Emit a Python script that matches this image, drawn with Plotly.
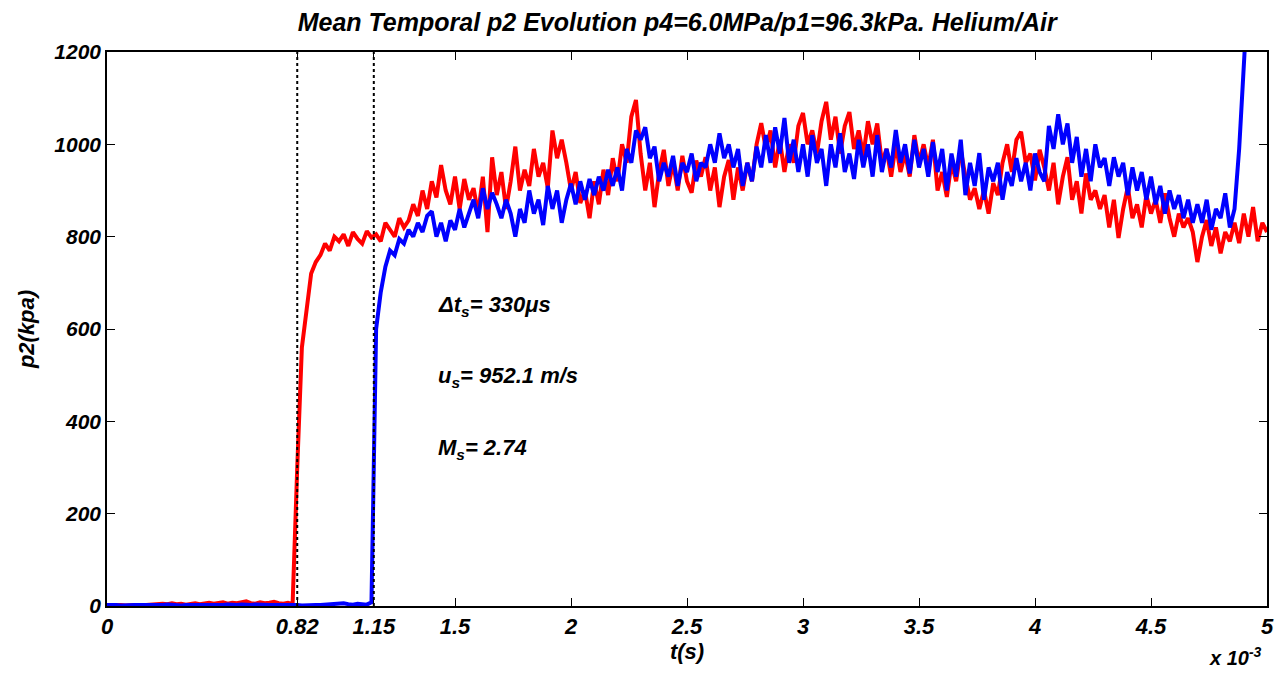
import plotly.graph_objects as go

# ---- data (time in ms, pressure in kPa) ----
DT_MS = 0.02

p2_red = [
    1, 2, 1, 2, 1, 2, 2, 1, 2, 3,
    4, 3, 5, 4, 6, 4, 5, 3, 5, 6,
    4, 5, 7, 5, 6, 8, 5, 7, 6, 9,
    10, 6, 5, 8, 6, 7, 9, 6, 5, 7,
    4, 300, 560, 640, 720, 745, 760, 785, 770, 800,
    790, 805, 780, 810, 795, 785, 812, 798, 805, 790,
    830, 815, 800, 840, 820, 835, 870, 845, 900, 860,
    920, 885, 955, 900, 870, 930, 860, 925, 880, 905,
    850, 930, 810, 972, 890, 940, 860, 920, 995, 900,
    945, 910, 990, 930, 960, 905, 1030, 970, 1010, 960,
    900, 940, 873, 900, 840, 920, 870, 945, 890, 970,
    920, 1000, 960, 1060, 1096, 980, 900, 960, 864, 940,
    988, 910, 960, 900, 975, 920, 895, 965, 930, 972,
    900, 950, 864, 930, 966, 880, 950, 900, 960, 920,
    1000, 1046, 990, 1030, 950, 1010, 940, 1000, 960, 1040,
    1068, 1000, 1030, 980, 1050, 1092, 1010, 1060, 980, 1040,
    1070, 990, 1030, 975, 1050, 1000, 1045, 960, 990, 930,
    1000, 940, 980, 930, 1020, 960, 1000, 950, 1010, 900,
    940, 886, 960, 920, 988, 930, 880, 905, 860, 900,
    850, 916, 890, 960, 1000, 940, 1010, 1027, 960, 980,
    922, 988, 950, 900, 960, 870, 930, 972, 880, 920,
    850, 937, 880, 900, 860, 890, 820, 880, 797, 860,
    908, 840, 870, 820, 890, 850, 880, 830, 894, 840,
    800, 850, 820, 840, 810, 745, 800, 836, 780, 820,
    764, 810, 790, 830, 786, 850, 800, 864, 790, 830,
    810,
]

p2_blue = [
    2, 3, 2, 1, 2, 3, 2, 2, 1, 2,
    2, 1, 2, 3, 2, 2, 1, 2, 3, 2,
    2, 3, 2, 2, 1, 2, 3, 2, 2, 3,
    2, 2, 3, 2, 1, 2, 2, 3, 2, 2,
    3, 2, 1, 2, 3, 2, 2, 3, 2, 4,
    5, 6, 4, 3, 5, 4, 3, 8, 600, 680,
    735, 770, 760, 795, 785, 815, 800, 830, 810, 845,
    855, 800, 830, 790, 835, 815, 860, 820, 850, 880,
    840, 905, 860, 895, 870, 840, 880, 850, 800, 860,
    830, 900, 850, 880, 825, 910, 860, 900, 830, 880,
    915, 870, 920, 880, 925, 890, 930, 900, 945, 910,
    950, 900, 990, 960, 1030, 1010, 1037, 970, 995, 920,
    960, 930, 975, 910, 960, 940, 980, 920, 960, 950,
    1000, 960, 1024, 970, 1000, 950, 990, 910, 960, 920,
    995, 950, 1020, 960, 1037, 980, 1057, 960, 1010, 940,
    1000, 930, 1020, 960, 990, 910, 1000, 950, 1024, 940,
    980, 925, 1010, 950, 1000, 930, 1020, 940, 990, 950,
    1031, 960, 1000, 937, 1010, 950, 990, 930, 1005, 940,
    990, 900, 980, 930, 1010, 890, 960, 910, 981, 880,
    950, 920, 960, 880, 940, 910, 970, 920, 960, 900,
    980, 940, 920, 1040, 990, 1065, 1000, 1045, 960, 1016,
    930, 990, 920, 1000, 950, 970, 910, 972, 930, 960,
    890, 950, 900, 940, 880, 930, 870, 910, 850, 900,
    860, 890, 840, 880, 830, 870, 830, 880, 815, 860,
    840, 894, 820, 860, 990, 1140, 1350,
]

shock_times = [0.82, 1.15]          # ms, shock arrival at the two gauges
x_tick_vals = [0, 0.82, 1.15, 1.5, 2, 2.5, 3, 3.5, 4, 4.5, 5]
x_tick_text = ["0", "0.82", "1.15", "1.5", "2", "2.5", "3", "3.5", "4", "4.5", "5"]
y_tick_vals = [0, 200, 400, 600, 800, 1000, 1200]

t_red = [i * DT_MS for i in range(len(p2_red))]
t_blue = [i * DT_MS for i in range(len(p2_blue))]

FONT = "Liberation Sans"
bi = dict(family=FONT, color="black", weight="bold", style="italic")

fig = go.Figure()
fig.add_trace(go.Scatter(x=t_red, y=p2_red, mode="lines",
                         line=dict(color="rgb(255,0,0)", width=4), showlegend=False))
fig.add_trace(go.Scatter(x=t_blue, y=p2_blue, mode="lines",
                         line=dict(color="rgb(0,0,255)", width=4), showlegend=False))
for ts in shock_times:
    fig.add_trace(go.Scatter(x=[ts, ts], y=[0, 1200], mode="lines",
                             line=dict(color="black", width=2, dash="dot"),
                             showlegend=False))

fig.update_layout(
    width=1285, height=677,
    margin=dict(l=107, r=18, t=52, b=71),
    paper_bgcolor="white", plot_bgcolor="white",
    title=dict(text="Mean Temporal p2 Evolution p4=6.0MPa/p1=96.3kPa. Helium/Air",
               x=0.527, xanchor="center", y=0.967, yanchor="middle",
               font=dict(size=25, **bi)),
    xaxis=dict(range=[0, 5], tickvals=x_tick_vals, ticktext=x_tick_text,
               ticks="inside", ticklen=8, tickwidth=1, tickcolor="black",
               showline=True, linecolor="black", linewidth=1.5, mirror="ticks",
               showgrid=False, zeroline=False,
               tickfont=dict(size=22, **bi),
               title=dict(text="t(s)", font=dict(size=22, **bi), standoff=2)),
    yaxis=dict(range=[0, 1200], tickvals=y_tick_vals,
               ticks="inside", ticklen=8, tickwidth=1, tickcolor="black",
               showline=True, linecolor="black", linewidth=1.5, mirror="ticks",
               showgrid=False, zeroline=False,
               tickfont=dict(size=21, **bi),
               title=dict(text="p2(kpa)", font=dict(size=22, **bi), standoff=14)),
)

ann_font = dict(size=22, **bi)
fig.add_annotation(x=1.42, y=650, xref="x", yref="y", xanchor="left", yanchor="middle",
                   text="Δt<sub>s</sub>= 330μs", showarrow=False, font=ann_font)
fig.add_annotation(x=1.42, y=495, xref="x", yref="y", xanchor="left", yanchor="middle",
                   text="u<sub>s</sub>= 952.1 m/s", showarrow=False, font=ann_font)
fig.add_annotation(x=1.42, y=340, xref="x", yref="y", xanchor="left", yanchor="middle",
                   text="M<sub>s</sub>= 2.74", showarrow=False, font=ann_font)
fig.add_annotation(x=0.997, y=-0.117, xref="paper", yref="paper", xanchor="right", yanchor="bottom",
                   text="x 10<sup>-3</sup>", showarrow=False, font=dict(size=20, **bi))

fig.write_html("out.html")
